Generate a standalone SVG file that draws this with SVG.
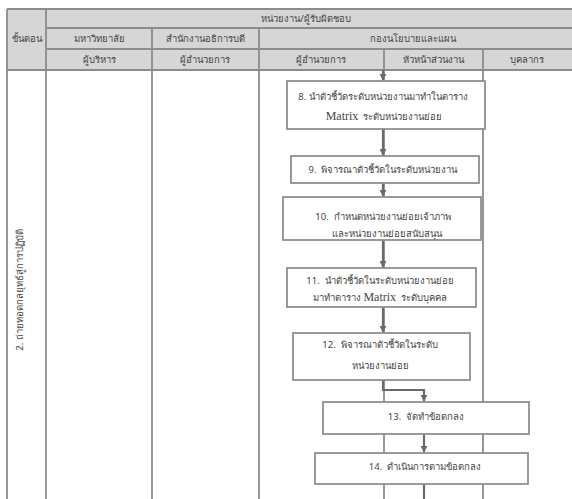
<svg xmlns="http://www.w3.org/2000/svg" width="572" height="499" viewBox="0 0 572 499">
<defs>
<style>
.hdr{fill:#d6d6d6}
.grid{stroke:#8c8c8c;stroke-width:1.8;fill:none}
.box{fill:#ffffff;stroke:#8f8f8f;stroke-width:1.8}
.t{font-family:"Noto Sans","DejaVu Sans",sans-serif;font-weight:400;font-size:9.5px;fill:#444;text-anchor:middle}
.h{font-family:"Noto Sans","DejaVu Sans",sans-serif;font-weight:400;font-size:9.5px;fill:#444;text-anchor:middle}
.en{font-family:"Liberation Serif",serif;font-size:12px}
.arr{stroke:#6a6a6a;stroke-width:2.2;fill:none}
</style>
<marker id="ah" viewBox="0 0 10 10" refX="9" refY="5" markerWidth="3.2" markerHeight="3.2" orient="auto" markerUnits="strokeWidth">
<path d="M0,0 L10,5 L0,10 z" fill="#6a6a6a"/>
</marker>
</defs>
<rect width="572" height="499" fill="#ffffff"/>
<g id="table">
<rect class="hdr" x="7" y="9" width="565" height="61"/>
<path class="grid" d="M7,9 H572 M46,28 H572 M46,49 H572 M7,70 H572 M7,9 V499 M46,9 V499 M152,28 V499 M259,28 V499 M384,49 V499 M483,49 V499"/>
<text class="h" x="306" y="22">หน่วยงาน/ผู้รับผิดชอบ</text>
<text class="h" x="27" y="42">ขั้นตอน</text>
<text class="h" x="99" y="42">มหาวิทยาลัย</text>
<text class="h" x="205" y="42">สำนักงานอธิการบดี</text>
<text class="h" x="413" y="42">กองนโยบายและแผน</text>
<text class="h" x="99" y="63">ผู้บริหาร</text>
<text class="h" x="205" y="63">ผู้อำนวยการ</text>
<text class="h" x="321" y="63">ผู้อำนวยการ</text>
<text class="h" x="433" y="63">หัวหน้าส่วนงาน</text>
<text class="h" x="527" y="63">บุคลากร</text>
<text class="h" transform="translate(23,290) rotate(-90)">2. ถ่ายทอดกลยุทธ์สู่การปฏิบัติ</text>
</g>
<g id="connectors">
<path class="arr" d="M383,70 V80" marker-end="url(#ah)"/>
<path class="arr" d="M383,129 V155" marker-end="url(#ah)"/>
<path class="arr" d="M383,183 V196" marker-end="url(#ah)"/>
<path class="arr" d="M383,240 V267" marker-end="url(#ah)"/>
<path class="arr" d="M383,307 V332" marker-end="url(#ah)"/>
<path class="arr" d="M383,380 V390 H424 V401" marker-end="url(#ah)"/>
<path class="arr" d="M424,434 V452" marker-end="url(#ah)"/>
<path class="arr" d="M424,484 V499"/>
</g>
<g id="n8">
<rect class="box" x="287" y="81" width="198" height="48"/>
<text class="t" x="383" y="100">8. นำตัวชี้วัดระดับหน่วยงานมาทำในตาราง</text>
<text class="t" x="384" y="120"><tspan class="en">Matrix</tspan>&#160;&#160;ระดับหน่วยงานย่อย</text>
</g>
<g id="n9">
<rect class="box" x="291" y="156" width="188" height="27"/>
<text class="t" x="383" y="173">9.&#160;&#160;พิจารณาตัวชี้วัดในระดับหน่วยงาน</text>
</g>
<g id="n10">
<rect class="box" x="283" y="197" width="198" height="43"/>
<text class="t" x="383" y="220">10.&#160;&#160;กำหนดหน่วยงานย่อยเจ้าภาพ</text>
<text class="t" x="387" y="237">และหน่วยงานย่อยสนับสนุน</text>
</g>
<g id="n11">
<rect class="box" x="287" y="268" width="189" height="39"/>
<text class="t" x="380" y="284">11.&#160;&#160;นำตัวชี้วัดในระดับหน่วยงานย่อย</text>
<text class="t" x="380" y="301">มาทำตาราง&#160;<tspan class="en">Matrix</tspan>&#160;&#160;ระดับบุคคล</text>
</g>
<g id="n12">
<rect class="box" x="293" y="333" width="177" height="47"/>
<text class="t" x="380" y="348">12.&#160;&#160;พิจารณาตัวชี้วัดในระดับ</text>
<text class="t" x="380" y="369">หน่วยงานย่อย</text>
</g>
<g id="n13">
<rect class="box" x="323" y="402" width="206" height="32"/>
<text class="t" x="426" y="420">13.&#160;&#160;จัดทำข้อตกลง</text>
</g>
<g id="n14">
<rect class="box" x="315" y="453" width="213" height="31"/>
<text class="t" x="425" y="470">14.&#160;&#160;ดำเนินการตามข้อตกลง</text>
</g>
</svg>
